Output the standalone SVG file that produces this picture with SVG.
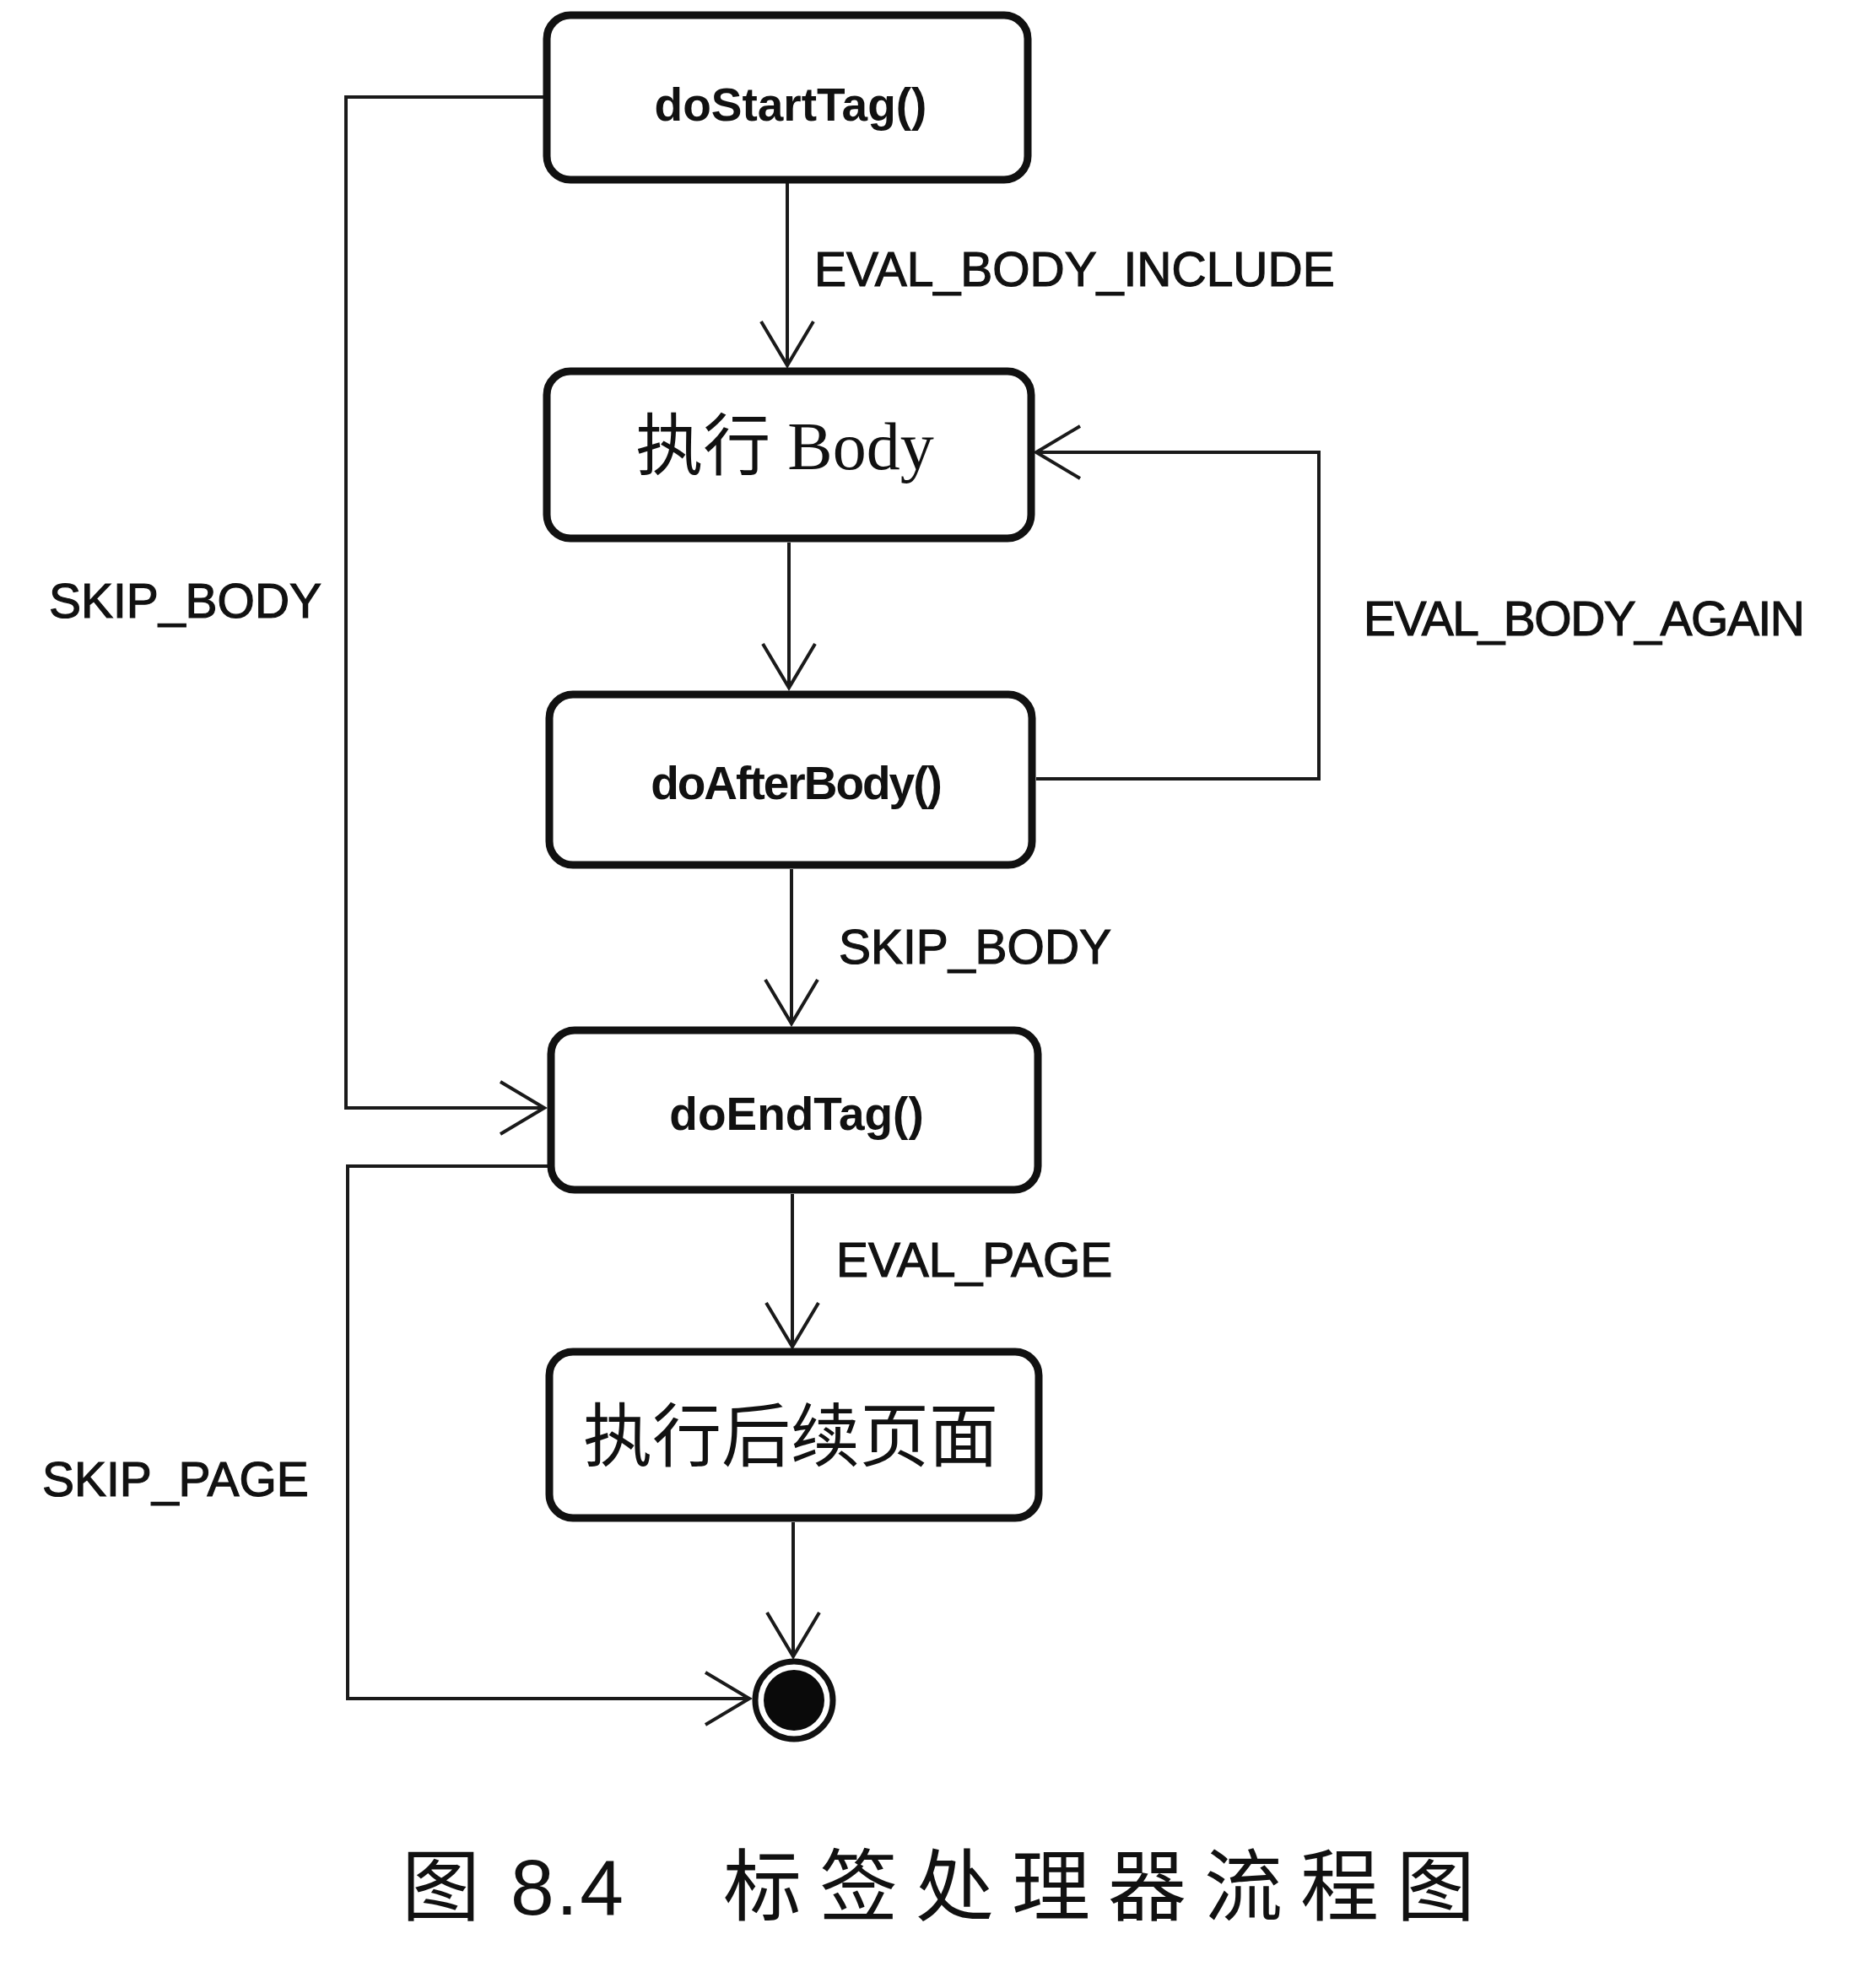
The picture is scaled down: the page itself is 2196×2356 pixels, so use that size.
<svg xmlns="http://www.w3.org/2000/svg" width="2196" height="2356" viewBox="0 0 2196 2356">
<defs>
<style>
.box{fill:#fff;stroke:#111;stroke-width:9}
.conn{fill:none;stroke:#1a1a1a;stroke-width:4}
.lbl{font-family:"Liberation Sans",Arial,sans-serif;font-size:57px;fill:#111;stroke:#111;stroke-width:1.2}
.fn{font-family:"Liberation Sans",Arial,sans-serif;font-size:55px;font-weight:bold;fill:#111;text-anchor:middle}
.cjk{font-family:"Liberation Serif","Noto Sans CJK SC",serif;fill:#111;text-anchor:middle}
.cap{font-size:93px;fill:#111}
</style>
<marker id="arr" markerUnits="userSpaceOnUse" markerWidth="70" markerHeight="80" viewBox="-60 -40 70 80" refX="0" refY="0" orient="auto">
<path d="M-52,-31 L0,0 L-52,31" fill="none" stroke="#1a1a1a" stroke-width="4"/>
</marker>
</defs>
<rect width="2196" height="2356" fill="#fff"/>
<g id="connectors">
<line class="conn" x1="933" y1="217" x2="933" y2="433" marker-end="url(#arr)"/>
<line class="conn" x1="935" y1="643" x2="935" y2="815" marker-end="url(#arr)"/>
<line class="conn" x1="938" y1="1030" x2="938" y2="1213" marker-end="url(#arr)"/>
<line class="conn" x1="939" y1="1415" x2="939" y2="1596" marker-end="url(#arr)"/>
<line class="conn" x1="940" y1="1804" x2="940" y2="1963" marker-end="url(#arr)"/>
<polyline class="conn" points="644,115 410,115 410,1313 645,1313" marker-end="url(#arr)"/>
<polyline class="conn" points="1228,923 1563,923 1563,536 1228,536" marker-end="url(#arr)"/>
<polyline class="conn" points="649,1382 412,1382 412,2013 888,2013" marker-end="url(#arr)"/>
<text class="lbl" x="965" y="339">EVAL_BODY_INCLUDE</text>
<text class="lbl" x="994" y="1142">SKIP_BODY</text>
<text class="lbl" x="991" y="1513">EVAL_PAGE</text>
<text class="lbl" x="58" y="732">SKIP_BODY</text>
<text class="lbl" x="1616" y="753" textLength="523">EVAL_BODY_AGAIN</text>
<text class="lbl" x="50" y="1773">SKIP_PAGE</text>
</g>
<g id="n1">
<rect class="box" x="648" y="18" width="570" height="195" rx="28"/>
<text class="fn" x="937" y="143">doStartTag()</text>
</g>
<g id="n2">
<rect class="box" x="648" y="440" width="574" height="198" rx="28"/>
<text class="cjk" x="930" y="556" font-size="80">执行 Body</text>
</g>
<g id="n3">
<rect class="box" x="651" y="823" width="572" height="202" rx="28"/>
<text class="fn" x="943" y="947" letter-spacing="-2">doAfterBody()</text>
</g>
<g id="n4">
<rect class="box" x="653" y="1221" width="577" height="189" rx="28"/>
<text class="fn" x="944" y="1339">doEndTag()</text>
</g>
<g id="n5">
<rect class="box" x="651" y="1602" width="580" height="197" rx="28"/>
<text class="cjk" x="937" y="1731" font-size="82">执行后续页面</text>
</g>
<g id="end">
<circle cx="941" cy="2015" r="46" fill="#fff" stroke="#111" stroke-width="7"/>
<circle cx="941" cy="2015" r="36" fill="#0a0a0a"/>
</g>
<g id="caption">
<text class="cap" font-family="'Noto Sans CJK SC',sans-serif" x="476" y="2269">图</text>
<text class="cap" font-family="'Liberation Sans',Arial,sans-serif" x="605" y="2269" textLength="134">8.4</text>
<text class="cap" font-family="'Noto Sans CJK SC',sans-serif" x="857" y="2269" letter-spacing="21">标签处理器流程图</text>
</g>
</svg>
